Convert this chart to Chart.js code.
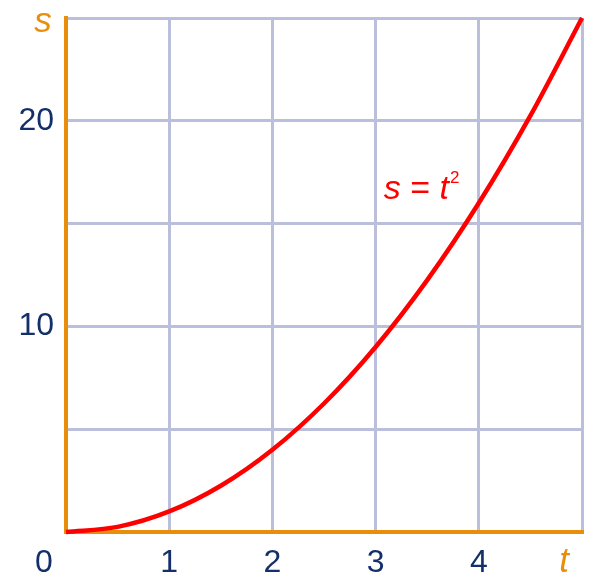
<html>
<head>
<title>s = t squared</title>
<style>
html, body {
  margin:0px;
  background:#ffffff;
}
</style>
<script src="https://cdn.jsdelivr.net/npm/chart.js@4.4.1/dist/chart.umd.min.js"></script>
</head>
<body>
<div style="position: relative; width:592px; height:574px;">
<canvas id="myChart"></canvas>
</div>
<script>
// values
const tValues = [0, 0.5, 1, 1.5, 2, 2.5, 3, 3.5, 4, 4.5, 5];
const sValues = [0, 0.25, 1, 2.25, 4, 6.25, 9, 12.25, 16, 20.25, 25];
const xTickLabels = ['', '1', '2', '3', '4', ''];
const yTickLabels = {10: '10', 20: '20'};

const orange = '#E98E0B';
const navy = '#14306B';
const gridGray = '#BBBFDB';

const points = tValues.map(function(t, i){ return {x: t, y: sValues[i]}; });

// extra text: the axis letters, the shared 0 and the formula
const labelsPlugin = {
  id: 'labels',
  afterDraw(chart) {
    const c = chart.ctx;
    const xs = chart.scales.x, ys = chart.scales.y;
    c.save();
    c.textBaseline = 'alphabetic';
    c.textAlign = 'center';
    c.fillStyle = navy;
    c.font = '32px "Liberation Sans", Arial, sans-serif';
    c.fillText('0', xs.getPixelForValue(0) - 22, 572);
    c.fillStyle = orange;
    c.font = 'italic 35px "Liberation Sans", Arial, sans-serif';
    c.fillText('s', 43, 32);
    c.fillText('t', xs.getPixelForValue(5) - 18, 572);
    // formula
    c.fillStyle = '#FF0000';
    c.textAlign = 'left';
    let x = xs.getPixelForValue(3.08), y = ys.getPixelForValue(16.2);
    c.font = 'italic 34px "Liberation Sans", Arial, sans-serif';
    c.fillText('s', x, y); x += c.measureText('s').width;
    c.font = '34px "Liberation Sans", Arial, sans-serif';
    c.fillText(' = ', x, y); x += c.measureText(' = ').width;
    c.font = 'italic 34px "Liberation Sans", Arial, sans-serif';
    c.fillText('t', x, y); x += c.measureText('t').width + 1;
    c.font = '17px "Liberation Sans", Arial, sans-serif';
    c.fillText('2', x, y - 16);
    c.restore();
  }
};

const ctx = document.getElementById('myChart');
const myChart = new Chart(ctx, {
  type: 'line',
  data: {
    datasets: [{
      data: points,
      borderColor: '#FF0000',
      borderWidth: 4.5,
      pointRadius: 0,
      cubicInterpolationMode: 'monotone',
      fill: false,
      clip: false
    }]
  },
  options: {
    responsive: true,
    maintainAspectRatio: false,
    animation: false,
    layout: {padding: {top: 18, right: 10, left: 0, bottom: 0}},
    plugins: {legend: {display: false}, tooltip: {enabled: false}},
    scales: {
      x: {
        type: 'linear',
        min: 0, max: 5,
        afterFit: function(scale){
          scale.height = 42;
          scale.paddingLeft = 0;
          scale.paddingRight = 0;
        },
        grid: {color: gridGray, lineWidth: 3, drawTicks: false},
        border: {color: orange, width: 4},
        ticks: {
          stepSize: 1,
          padding: 12,
          color: navy,
          font: {size: 32, family: '"Liberation Sans", Arial, sans-serif'},
          callback: function(v){ return xTickLabels[v]; }
        }
      },
      y: {
        type: 'linear',
        min: 0, max: 25,
        afterFit: function(scale){
          scale.width = 66;
          scale.paddingTop = 0;
          scale.paddingBottom = 0;
        },
        grid: {color: gridGray, lineWidth: 3, drawTicks: false},
        border: {color: orange, width: 4},
        ticks: {
          stepSize: 5,
          padding: 12,
          color: navy,
          font: {size: 32, family: '"Liberation Sans", Arial, sans-serif'},
          callback: function(v){ return yTickLabels[v] || ''; }
        }
      }
    }
  },
  plugins: [labelsPlugin]
});
</script>
</body>
</html>
